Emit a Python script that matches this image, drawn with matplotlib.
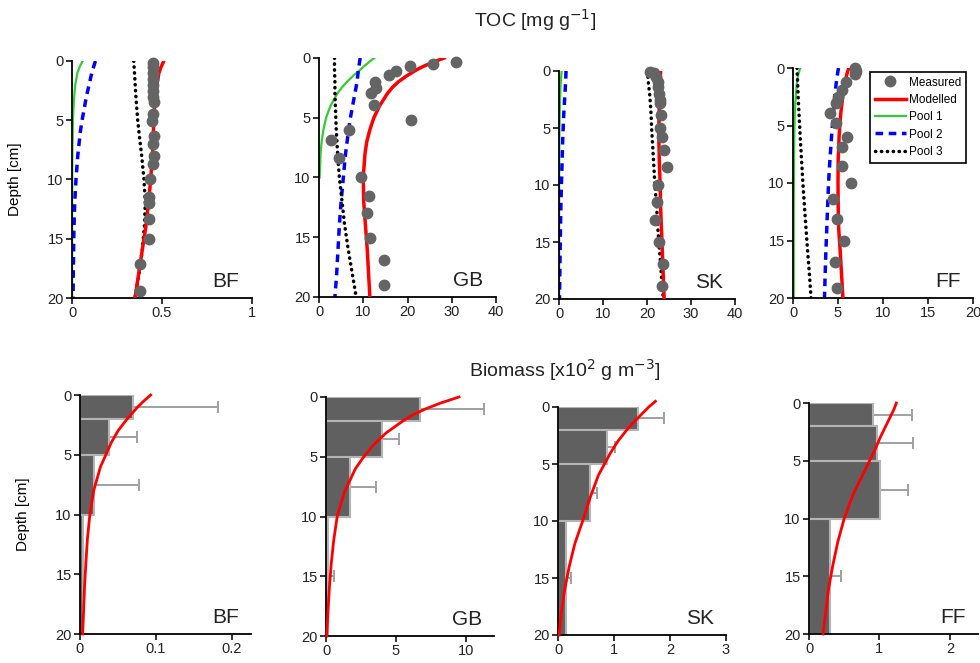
import matplotlib
matplotlib.use('Agg')
import matplotlib.pyplot as plt
import numpy as np

plt.rcParams['font.family'] = ['Liberation Sans', 'DejaVu Sans']

sites = ['BF', 'GB', 'SK', 'FF']

###---TOC data [mg g-1]---###
bf_meas_depth = [0.2, 0.5, 1.0, 1.5, 2.0, 2.5, 3.0, 3.5, 4.5, 5.1, 6.3, 7.0, 8.0, 8.7, 10.0, 11.5, 12.0, 13.3, 15.0, 17.1, 19.4]
bf_meas_toc = [0.45, 0.45, 0.45, 0.45, 0.45, 0.45, 0.45, 0.455, 0.45, 0.445, 0.455, 0.45, 0.455, 0.45, 0.435, 0.43, 0.43, 0.425, 0.43, 0.38, 0.375]
gb_meas_depth = [0.3, 0.5, 0.7, 1.06, 1.4, 2.0, 2.5, 2.9, 3.9, 5.2, 6.0, 6.9, 8.4, 10.0, 11.55, 13.0, 15.1, 16.9, 19.0]
gb_meas_toc = [31.0, 25.8, 20.6, 17.3, 15.9, 12.7, 12.9, 11.7, 12.5, 20.9, 6.7, 2.8, 4.5, 9.6, 11.2, 10.8, 11.5, 14.8, 14.8]
sk_meas_depth = [0.12, 0.2, 0.5, 0.93, 1.4, 2.0, 2.5, 2.8, 3.9, 5.0, 5.8, 6.9, 8.4, 10.0, 11.5, 13.05, 15.0, 16.9, 18.9]
sk_meas_toc = [20.7, 21.6, 22.1, 22.4, 22.5, 22.7, 23.0, 23.0, 23.1, 23.0, 23.5, 23.9, 24.5, 22.5, 22.2, 21.8, 22.7, 23.7, 23.5]
ff_meas_depth = [0.0, 0.3, 0.5, 1.25, 1.9, 2.5, 3.0, 3.9, 4.8, 6.0, 6.9, 8.5, 10.0, 11.4, 13.1, 15.0, 16.9, 19.1]
ff_meas_toc = [6.93, 7.04, 6.93, 5.9, 5.4, 5.0, 4.75, 4.1, 4.75, 6.0, 5.4, 5.4, 6.44, 4.4, 4.87, 5.7, 4.7, 4.87]

# model curves read on a common depth grid
curve_depth = [0, 0.5, 1, 2, 3, 4, 5, 6, 8, 10, 12, 14, 16, 18, 20]
bf_model = [0.51, 0.495, 0.483, 0.472, 0.465, 0.458, 0.455, 0.452, 0.447, 0.437, 0.425, 0.41, 0.39, 0.37, 0.35]
bf_pool1 = [0.06, 0.042, 0.03, 0.018, 0.012, 0.008, 0.005, 0.004, 0.002, 0.001, 0.0005, 0.0005, 0.0005, 0.0005, 0.0005]
bf_pool2 = [0.13, 0.12, 0.11, 0.095, 0.08, 0.068, 0.056, 0.046, 0.032, 0.022, 0.015, 0.011, 0.009, 0.007, 0.006]
bf_pool3 = [0.343, 0.345, 0.347, 0.351, 0.355, 0.36, 0.365, 0.372, 0.387, 0.40, 0.407, 0.402, 0.39, 0.372, 0.35]
sk_model = [23.1, 23.05, 23.0, 22.9, 22.8, 22.75, 22.7, 22.7, 22.8, 23.0, 23.1, 23.3, 23.5, 23.7, 23.9]
sk_pool1 = [0.6, 0.5, 0.4, 0.28, 0.2, 0.15, 0.11, 0.08, 0.05, 0.04, 0.03, 0.03, 0.03, 0.03, 0.03]
sk_pool2 = [1.6, 1.55, 1.5, 1.35, 1.2, 1.05, 0.95, 0.85, 0.7, 0.55, 0.42, 0.33, 0.25, 0.18, 0.12]
sk_pool3 = [20.1, 20.2, 20.3, 20.6, 20.8, 20.95, 21.05, 21.2, 21.5, 21.8, 22.2, 22.5, 22.9, 23.3, 23.7]
ff_model = [6.2, 6.0, 5.85, 5.6, 5.45, 5.3, 5.2, 5.12, 5.02, 5.0, 5.02, 5.08, 5.25, 5.4, 5.55]
ff_pool1 = [0.82, 0.6, 0.47, 0.36, 0.26, 0.2, 0.17, 0.14, 0.11, 0.1, 0.08, 0.08, 0.08, 0.08, 0.08]
ff_pool2 = [5.05, 4.95, 4.85, 4.7, 4.58, 4.48, 4.38, 4.28, 4.1, 3.95, 3.85, 3.75, 3.65, 3.57, 3.5]
ff_pool3 = [0.45, 0.47, 0.5, 0.55, 0.6, 0.67, 0.74, 0.8, 0.95, 1.1, 1.27, 1.45, 1.63, 1.83, 2.0]

# GB bends sharply near the surface, so it is read on a finer grid
gb_curve_depth = [0, 0.25, 0.5, 0.75, 1, 1.5, 2, 2.5, 3, 4, 5, 6, 7, 8, 10, 12, 14, 16, 18, 20]
gb_model = [28.3, 26.5, 24.8, 23.3, 22.0, 19.8, 17.9, 16.5, 15.4, 13.7, 12.4, 11.5, 10.8, 10.4, 10.0, 10.1, 10.5, 10.9, 11.2, 11.5]
gb_pool1 = [12.5, 11.6, 10.8, 10.0, 9.3, 7.7, 6.3, 5.1, 4.1, 2.6, 1.6, 1.0, 0.6, 0.35, 0.15, np.nan, np.nan, np.nan, np.nan, np.nan]
gb_pool2 = [9.3, 9.2, 9.1, 9.0, 8.9, 8.75, 8.6, 8.35, 8.1, 7.6, 7.1, 6.7, 6.35, 6.0, 5.5, 5.0, 4.6, 4.3, 4.0, 3.6]
gb_pool3 = [3.5, 3.5, 3.5, 3.5, 3.5, 3.55, 3.6, 3.6, 3.6, 3.7, 3.8, 3.9, 4.05, 4.2, 4.6, 5.2, 5.8, 6.6, 7.5, 8.4]

###---Biomass data [x10^2 g m-3]---###
layer_top = [0, 2, 5, 10]
layer_thick = [2, 3, 5, 10]
layer_mid = [1, 3.5, 7.5, 15]
bf_bio = [0.07, 0.038, 0.018, 0.004]
bf_bio_sd = [0.112, 0.037, 0.060, 0.0]
gb_bio = [6.7, 4.0, 1.7, 0.17]
gb_bio_sd = [4.6, 1.2, 1.9, 0.38]
sk_bio = [1.43, 0.88, 0.58, 0.14]
sk_bio_sd = [0.47, 0.13, 0.12, 0.09]
ff_bio = [0.91, 0.96, 1.01, 0.30]
ff_bio_sd = [0.55, 0.52, 0.39, 0.15]

bio_curve_depth = [-0.5, 0, 0.5, 1, 1.5, 2, 3, 4, 5, 6, 8, 10, 12, 14, 16, 18, 20]
bf_bio_model = [np.nan, 0.093, 0.084, 0.076, 0.069, 0.062, 0.05, 0.041, 0.034, 0.027, 0.018, 0.013, 0.0098, 0.0078, 0.006, 0.0048, 0.0035]
gb_bio_model = [np.nan, 9.5, 8.2, 7.1, 6.2, 5.5, 4.3, 3.4, 2.7, 2.1, 1.3, 0.8, 0.55, 0.37, 0.24, 0.14, 0.05]
sk_bio_model = [1.74, 1.62, 1.52, 1.42, 1.32, 1.23, 1.07, 0.94, 0.83, 0.72, 0.57, 0.44, 0.3, 0.2, 0.12, 0.06, 0.02]
ff_bio_model = [np.nan, 1.24, 1.21, 1.17, 1.13, 1.09, 1.01, 0.94, 0.86, 0.78, 0.62, 0.5, 0.41, 0.34, 0.28, 0.24, 0.2]

W, H = 980, 663
fig = plt.figure(figsize=(W / 100, H / 100), dpi=100)

def px_axes(l, t, r, b):
    return fig.add_axes([l / W, 1 - b / H, (r - l) / W, (b - t) / H])

def style(ax, xmax, xticks, xlabels, name):
    ax.set_ylim(20, 0)
    ax.set_xlim(0, xmax)
    ax.set_yticks([0, 5, 10, 15, 20])
    ax.set_xticks(xticks)
    ax.set_xticklabels(xlabels)
    for s in ['top', 'right']:
        ax.spines[s].set_visible(False)
    for s in ['left', 'bottom']:
        ax.spines[s].set_linewidth(1.3)
    ax.tick_params(direction='out', length=4, width=1.3, labelsize=10.5, pad=2, colors='#222222')
    ax.text(0.93, 0.03, name, transform=ax.transAxes, ha='right', va='bottom', fontsize=15, color='#222222')

top_boxes = [(72, 61, 252, 298), (319, 58, 496, 297), (559, 71, 735, 299), (793, 68, 973, 298)]
top_xlim = [1, 40, 40, 20]
top_ticks = [([0, 0.5, 1], ['0', '0.5', '1']),
             ([0, 10, 20, 30, 40], ['0', '10', '20', '30', '40']),
             ([0, 10, 20, 30, 40], ['0', '10', '20', '30', '40']),
             ([0, 5, 10, 15, 20], ['0', '5', '10', '15', '20'])]
meas = [(bf_meas_depth, bf_meas_toc), (gb_meas_depth, gb_meas_toc), (sk_meas_depth, sk_meas_toc), (ff_meas_depth, ff_meas_toc)]
models = [(curve_depth, bf_model, bf_pool1, bf_pool2, bf_pool3),
          (gb_curve_depth, gb_model, gb_pool1, gb_pool2, gb_pool3),
          (curve_depth, sk_model, sk_pool1, sk_pool2, sk_pool3),
          (curve_depth, ff_model, ff_pool1, ff_pool2, ff_pool3)]

for i in range(4):
    ax = px_axes(*top_boxes[i])
    d, mod, p1, p2, p3 = models[i]
    ax.plot(p1, d, color='#33cc33', lw=1.6, label='Pool 1', zorder=2)
    ax.plot(p2, d, color='#0000ff', lw=2.5, ls=(0, (2.2, 1.6)), label='Pool 2', zorder=2)
    ax.plot(p3, d, color='black', lw=2.5, ls=(0, (0.1, 1.6)), dash_capstyle='round', label='Pool 3', zorder=2)
    ax.plot(mod, d, color='#ff0000', lw=2.5, label='Modelled', zorder=3)
    ax.plot(meas[i][1], meas[i][0], 'o', color='#646464', ms=7.5, mec='#646464', label='Measured', zorder=4, clip_on=False)
    style(ax, top_xlim[i], top_ticks[i][0], top_ticks[i][1], sites[i])
    if i == 0:
        ax.set_ylabel('Depth [cm]', fontsize=11)
        ax.yaxis.set_label_coords(-0.278, 0.5)
    if i == 3:
        h, l = ax.get_legend_handles_labels()
        order = [4, 3, 0, 1, 2]
        leg = ax.legend([h[k] for k in order], [l[k] for k in order], loc='upper right',
                        bbox_to_anchor=(972 / W, 1 - 66 / H), bbox_transform=fig.transFigure,
                        fontsize=8.5, handlelength=2.6, handletextpad=0.3, labelspacing=0.45,
                        borderpad=0.4, fancybox=False, framealpha=1, edgecolor='black')
        leg.get_frame().set_linewidth(1.2)

bot_boxes = [(80, 395, 251, 634), (326, 397, 494, 636), (558, 407, 726, 635), (809, 403, 978, 634)]
bot_xlim = [0.225, 12, 3, 2.4]
bot_ticks = [([0, 0.1, 0.2], ['0', '0.1', '0.2']),
             ([0, 5, 10], ['0', '5', '10']),
             ([0, 1, 2, 3], ['0', '1', '2', '3']),
             ([0, 1, 2], ['0', '1', '2'])]
bios = [(bf_bio, bf_bio_sd, bf_bio_model), (gb_bio, gb_bio_sd, gb_bio_model),
        (sk_bio, sk_bio_sd, sk_bio_model), (ff_bio, ff_bio_sd, ff_bio_model)]

for i in range(4):
    ax = px_axes(*bot_boxes[i])
    vals, sd, mod = bios[i]
    ax.barh(layer_top, vals, height=layer_thick, align='edge', color='#606060',
            edgecolor='#b4b4b4', linewidth=1.5, zorder=2)
    ax.errorbar(vals, layer_mid, xerr=[[0] * 4, sd], fmt='none', ecolor='#a0a0a0',
                elinewidth=1.4, capsize=4, capthick=1.4, zorder=1)
    ax.plot(mod, bio_curve_depth, color='#ff0000', lw=2, zorder=3, clip_on=False)
    style(ax, bot_xlim[i], bot_ticks[i][0], bot_ticks[i][1], sites[i])
    if i == 0:
        ax.set_ylabel('Depth [cm]', fontsize=11)
        ax.yaxis.set_label_coords(-0.29, 0.5)

fig.text(535 / W, 1 - 20 / H, 'TOC [mg g$^{-1}$]', ha='center', va='center', fontsize=14, color='#222222')
fig.text(565 / W, 1 - 370 / H, 'Biomass [x10$^{2}$ g m$^{-3}$]', ha='center', va='center', fontsize=14, color='#222222')

fig.savefig('out.png', dpi=100)
